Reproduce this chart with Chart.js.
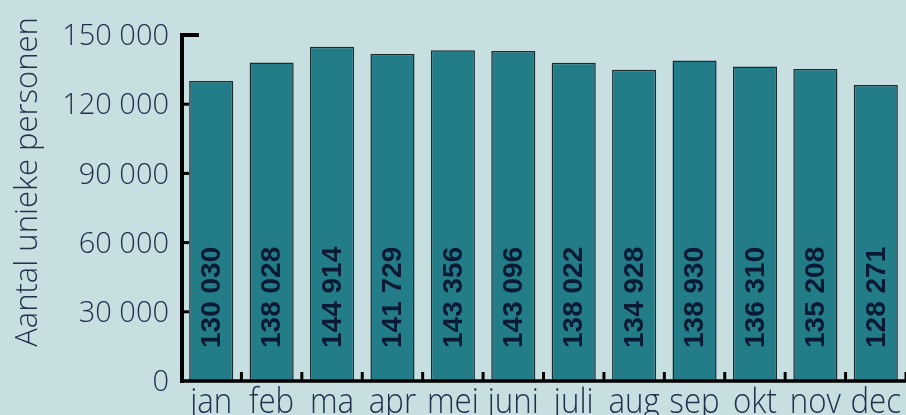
<!DOCTYPE html>
<html>
<head>
<meta charset="utf-8">
<script src="https://cdn.jsdelivr.net/npm/chart.js@4/dist/chart.umd.min.js"></script>
<style>
  html, body { margin: 0; padding: 0; background: #c8dfe1; overflow: hidden; }
  #wrap { width: 906px; height: 415px; position: relative; }
</style>
</head>
<body>
<div id="wrap"><canvas id="c"></canvas></div>
<script>
const categories = ['jan', 'feb', 'ma', 'apr', 'mei', 'juni', 'juli', 'aug', 'sep', 'okt', 'nov', 'dec'];
const uniquePersons = [130030, 138028, 144914, 141729, 143356, 143096, 138022, 134928, 138930, 136310, 135208, 128271];
const yTicks = [0, 30000, 60000, 90000, 120000, 150000];
const yTitle = 'Aantal unieke personen';

const fmt = v => String(v).replace(/\B(?=(\d{3})+(?!\d))/g, ' ');
const textColor = '#22304c';
const lightFont = '"Open Sans", "DejaVu Sans", sans-serif';

const axesPlugin = {
  id: 'customAxes',
  afterDatasetsDraw(chart) {
    const ctx = chart.ctx;
    const x = chart.scales.x, y = chart.scales.y;
    const left = chart.chartArea.left, bottom = y.getPixelForValue(0), top = y.getPixelForValue(yTicks[yTicks.length - 1]);
    ctx.save();
    ctx.strokeStyle = '#000';
    ctx.lineCap = 'butt';
    ctx.lineWidth = 4;
    ctx.beginPath(); ctx.moveTo(left + 1, top - 2); ctx.lineTo(left + 1, bottom + 2); ctx.stroke();
    ctx.beginPath(); ctx.moveTo(left, top); ctx.lineTo(left + 18, top); ctx.stroke();
    ctx.lineWidth = 3;
    yTicks.slice(1, -1).forEach(v => {
      const py = y.getPixelForValue(v);
      ctx.beginPath(); ctx.moveTo(left, py); ctx.lineTo(left + 8, py); ctx.stroke();
    });
    ctx.lineWidth = 3.5;
    ctx.beginPath(); ctx.moveTo(left - 1, bottom); ctx.lineTo(chart.width, bottom); ctx.stroke();
    ctx.lineWidth = 3;
    const step = x.getPixelForValue(1) - x.getPixelForValue(0);
    for (let i = 0; i < categories.length; i++) {
      const px = x.getPixelForValue(i) + step / 2;
      ctx.beginPath(); ctx.moveTo(px, bottom); ctx.lineTo(px, bottom - 9); ctx.stroke();
    }
    ctx.restore();
  }
};

const textPlugin = {
  id: 'texts',
  afterDatasetsDraw(chart) {
    const ctx = chart.ctx;
    const meta = chart.getDatasetMeta(0);
    const x = chart.scales.x, y = chart.scales.y;
    const base = y.getPixelForValue(0);
    ctx.save();
    // values inside bars
    ctx.fillStyle = '#0b1a34';
    ctx.font = 'bold 28px "Liberation Sans", Arial, sans-serif';
    ctx.textAlign = 'left';
    ctx.textBaseline = 'middle';
    meta.data.forEach((bar, i) => {
      ctx.save();
      ctx.translate(bar.x + 1, base - 33);
      ctx.rotate(-Math.PI / 2);
      ctx.fillText(fmt(uniquePersons[i]), 0, 0);
      ctx.restore();
    });
    // category labels
    ctx.fillStyle = textColor;
    ctx.font = '300 34px ' + lightFont;
    ctx.textAlign = 'center';
    ctx.textBaseline = 'alphabetic';
    categories.forEach((c, i) => {
      ctx.save();
      ctx.translate(x.getPixelForValue(i), base + 32);
      ctx.scale(0.92, 1);
      ctx.fillText(c, 0, 0);
      ctx.restore();
    });
    // y title
    ctx.font = '300 31px ' + lightFont;
    ctx.textAlign = 'center';
    ctx.textBaseline = 'alphabetic';
    ctx.save();
    ctx.translate(37, 182);
    ctx.rotate(-Math.PI / 2);
    ctx.fillText(yTitle, 0, 0);
    ctx.restore();
    ctx.restore();
  }
};

new Chart(document.getElementById('c'), {
  type: 'bar',
  data: {
    labels: categories,
    datasets: [{
      data: uniquePersons,
      backgroundColor: '#237d89',
      borderColor: '#1a2a2e',
      borderWidth: 1.5,
      borderSkipped: false,
      categoryPercentage: 0.73,
      barPercentage: 1.0
    }]
  },
  options: {
    responsive: true,
    maintainAspectRatio: false,
    animation: false,
    layout: { padding: { top: 35, right: 0, bottom: 0, left: 0 } },
    plugins: { legend: { display: false }, tooltip: { enabled: false } },
    scales: {
      x: {
        grid: { display: false, drawTicks: false },
        border: { display: false },
        ticks: { display: false },
        afterFit(s) { s.height = 34; }
      },
      y: {
        min: 0, max: 150000,
        afterBuildTicks(s) { s.ticks = yTicks.map(v => ({ value: v })); },
        grid: { display: false, drawTicks: false },
        border: { display: false },
        ticks: { color: textColor, font: { family: lightFont, size: 29, weight: 300 }, padding: 12, labelOffset: 2, callback: v => fmt(v) },
        afterFit(s) { s.width = 181; }
      }
    }
  },
  plugins: [axesPlugin, textPlugin]
});
</script>
</body>
</html>
